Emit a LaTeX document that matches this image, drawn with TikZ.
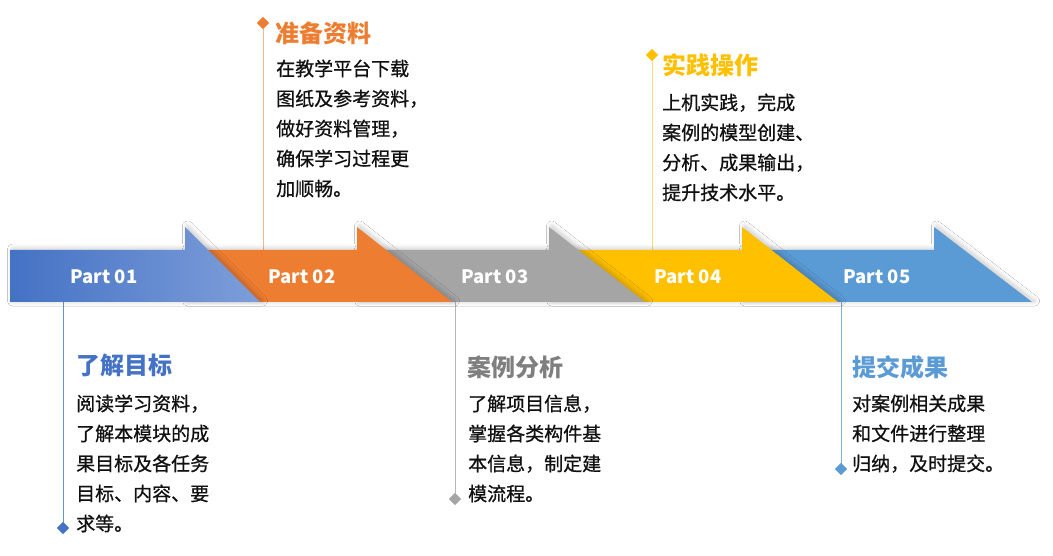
\documentclass[tikz,border=0pt]{standalone}
\usepackage{fontspec}
\newfontfamily\cjk{Noto Sans CJK SC}
\newfontfamily\cjkbody{Noto Sans CJK SC}[FakeBold=0.8]
\usetikzlibrary{shapes.geometric,shadows.blur}
\definecolor{cBlueA}{HTML}{4472C4}
\definecolor{cBlueB}{HTML}{7E9ED9}
\definecolor{cOrange}{HTML}{ED7D31}
\definecolor{cGray}{HTML}{A5A5A5}
\definecolor{cGrayT}{HTML}{7F7F7F}
\definecolor{cYellow}{HTML}{FFC000}
\definecolor{cBlueE}{HTML}{5B9BD5}
\definecolor{cText}{HTML}{111111}
\begin{document}
\begin{tikzpicture}[x=1pt,y=-1pt,
  arrowshape/.style={blur shadow={shadow xshift=2.5pt,shadow yshift=1pt,shadow blur radius=5pt,shadow blur steps=10,shadow opacity=22}},
  partlabel/.style={text=white,font=\cjk\bfseries\fontsize{18.5}{20}\selectfont,inner sep=0},
  titletext/.style={anchor=west,inner sep=0,font=\cjk\bfseries\fontsize{24}{28}\selectfont},
  bodytext/.style={anchor=north west,inner sep=0,align=left,text=cText,font=\cjkbody\fontsize{19}{30}\selectfont},
  stem/.style={line width=1pt},
  dmd/.style={diamond,minimum size=12pt,inner sep=0}
]
\useasboundingbox[fill=white] (0,0) rectangle (1053,556);

% stems and diamonds
\coordinate (s1) at (63,302);
\coordinate (s2) at (263,250);
\coordinate (s3) at (455,302);
\coordinate (s4) at (652,250);
\coordinate (s5) at (841,302);
\node[dmd,fill=cBlueA] (d1) at (63,528) {};
\node[dmd,fill=cOrange] (d2) at (263,23) {};
\node[dmd,fill=cGray] (d3) at (455,499) {};
\node[dmd,fill=cYellow] (d4) at (652,55) {};
\node[dmd,fill=cBlueE] (d5) at (841,469) {};
\draw[stem,cBlueA!80] (s1) -- (d1.center);
\draw[stem,cOrange!55] (d2.center) -- (s2);
\draw[stem,cGray!80] (s3) -- (d3.center);
\draw[stem,cYellow!55] (d4.center) -- (s4);
\draw[stem,cBlueE!80] (s5) -- (d5.center);
\node[dmd,fill=cBlueA] at (d1) {};
\node[dmd,fill=cOrange] at (d2) {};
\node[dmd,fill=cGray] at (d3) {};
\node[dmd,fill=cYellow] at (d4) {};
\node[dmd,fill=cBlueE] at (d5) {};

% arrows, right to left so the left one lies on top
\fill[arrowshape,cBlueE] (742,250) -- (934,250) -- (934,227) -- (1032,302) -- (742,302) -- cycle;
\fill[arrowshape,cYellow] (549,250) -- (742,250) -- (742,227) -- (838,302) -- (549,302) -- cycle;
\fill[arrowshape,cGray] (357,250) -- (549,250) -- (549,227) -- (645,302) -- (357,302) -- cycle;
\fill[arrowshape,cOrange] (185,250) -- (357,250) -- (357,227) -- (452,302) -- (185,302) -- cycle;
\path[arrowshape,left color=cBlueA,right color=cBlueB] (10,250) -- (185,250) -- (185,227) -- (260,302) -- (10,302) -- cycle;

\node[partlabel] (p1) at (104,277) {Part 01};
\node[partlabel] (p2) at (302,277) {Part 02};
\node[partlabel] (p3) at (495,277) {Part 03};
\node[partlabel] (p4) at (688,277) {Part 04};
\node[partlabel] (p5) at (877,277) {Part 05};

% titles
\node[titletext,text=cBlueA] (t1) at (76,365) {了解目标};
\node[titletext,text=cOrange] (t2) at (275,33) {准备资料};
\node[titletext,text=cGrayT] (t3) at (467,367) {案例分析};
\node[titletext,text=cYellow] (t4) at (662,65) {实践操作};
\node[titletext,text=cBlueE] (t5) at (852,367) {提交成果};

% bodies
\node[bodytext] (b1) at (76,394.4) {阅读学习资料，\\了解本模块的成\\果目标及各任务\\目标、内容、要\\求等。};
\node[bodytext] (b2) at (276,59.4) {在教学平台下载\\图纸及参考资料，\\做好资料管理，\\确保学习过程更\\加顺畅。};
\node[bodytext] (b3) at (468,394.4) {了解项目信息，\\掌握各类构件基\\本信息，制定建\\模流程。};
\node[bodytext] (b4) at (662,93.4) {上机实践，完成\\案例的模型创建、\\分析、成果输出，\\提升技术水平。};
\node[bodytext] (b5) at (852,394.4) {对案例相关成果\\和文件进行整理\\归纳，及时提交。};
\end{tikzpicture}
\end{document}
